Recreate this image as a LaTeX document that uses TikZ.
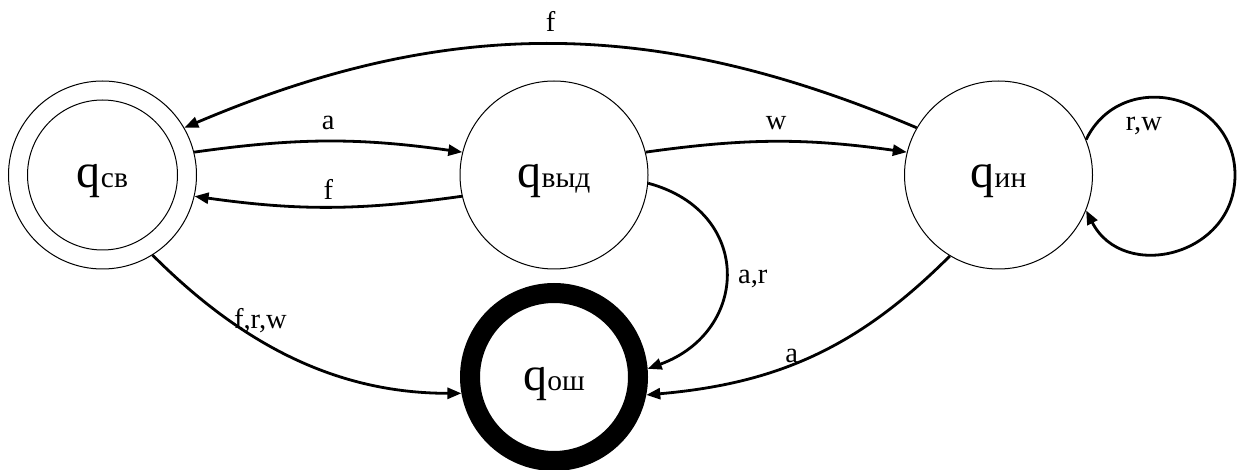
\documentclass[tikz,border=0pt]{standalone}
\usepackage{fontspec}
\setmainfont{Liberation Serif}
\usetikzlibrary{arrows.meta}
\newcommand\subtxt[1]{{\fontsize{29.5}{31}\selectfont #1}}
\begin{document}
\begin{tikzpicture}[x=1pt,y=1pt,
  state/.style={circle,draw,line width=1pt,minimum size=188pt,inner sep=0pt,
    text height=26pt,text depth=0pt,font=\fontsize{48}{50}\selectfont},
  trans/.style={line width=2.8pt,-{Triangle[length=14pt,width=11pt]}},
  lbl/.style={font=\fontsize{28.5}{32}\selectfont,inner sep=0pt}]
\useasboundingbox (0,0) rectangle (1237,-470);
\node[state] (qsv) at (102.5,-175) {q\subtxt{св}};
\draw[line width=1pt] (qsv.center) circle[radius=75];
\node[state] (qvyd) at (554,-175) {q\subtxt{выд}};
\node[state] (qin) at (998.5,-175) {q\subtxt{ин}};
\node[state,line width=20pt,minimum size=168pt] (qosh) at (554,-377) {q\subtxt{ош}};
\coordinate (loopR) at (1235,-175);

\draw[trans] (qsv.14) to[bend left=8] node[lbl,above=10pt] {a} (qvyd.166);
\draw[trans] (qvyd.193) to[bend left=8] node[lbl,above=6pt] {f} (qsv.347);
\draw[trans] (qvyd.14) to[bend left=8] node[lbl,above=10pt] {w} (qin.166);
\draw[trans] (qin.150) to[bend right=23] node[lbl,above=11pt] {f} (qsv.30);
\draw[trans] (qin.22) to[out=64,in=90,looseness=1.36] node[lbl,pos=0.35,below=18pt] {r,w} (loopR)
  to[out=-90,in=-63,looseness=1.36] (qin.-22);
\draw[trans] (qvyd.-5) to[out=-15,in=20,looseness=1.5] node[lbl,anchor=base west,xshift=11pt,yshift=-11pt] {a,r} (qosh.5);
\draw[trans] (qin.-121) to[out=-135,in=5,looseness=1] node[lbl,pos=0.57,above=0pt] {a} (qosh.-11);
\draw[trans] (qsv.-58) to[out=-45,in=180,looseness=0.95] node[lbl,pos=0.3,anchor=base west,xshift=-2pt,yshift=-4pt] {f,r,w} (qosh.190);
\end{tikzpicture}
\end{document}
